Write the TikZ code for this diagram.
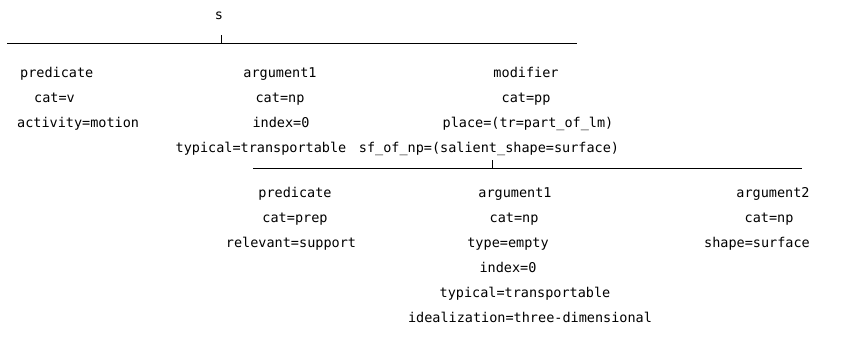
\documentclass[tikz,border=0pt]{standalone}
\usepackage{fontspec}
\setmonofont{DejaVu Sans Mono}
\begin{document}
\begin{tikzpicture}[x=1pt,y=-1pt,
  lbl/.style={anchor=base,inner sep=0pt,font=\ttfamily\fontsize{13.5}{15}\selectfont},
  lbw/.style={lbl,anchor=base west},
  bar/.style={line width=0.8pt}]
\useasboundingbox (0,0) rectangle (858,341);
% top tree
\node[lbl] (s) at (219,19) {s};
\coordinate (t1) at (221,35);
\coordinate (l1a) at (7,43);
\coordinate (l1b) at (577,43);
\draw[bar] (l1a) -- (l1b);
\draw[bar] (t1) -- (t1 |- l1a);
% column predicate
\node[lbw] (p1) at (20,77) {predicate};
\node[lbw] (p2) at (34,102) {cat=v};
\node[lbw] (p3) at (17,127) {activity=motion};
% column argument1
\node[lbl] (a1) at (280,77) {argument1};
\node[lbl] (a2) at (280,102) {cat=np};
\node[lbl] (a3) at (281,127) {index=0};
\node[lbl] (a4) at (261,152) {typical=transportable};
% column modifier
\node[lbl] (m1) at (526,77) {modifier};
\node[lbl] (m2) at (526,102) {cat=pp};
\node[lbl] (m3) at (528,127) {place=(tr=part\_of\_lm)};
\node[lbl] (m4) at (489,152) {sf\_of\_np=(salient\_shape=surface)};
% second tree
\coordinate (t2) at (492,160);
\coordinate (l2a) at (253,168);
\coordinate (l2b) at (802,168);
\draw[bar] (l2a) -- (l2b);
\draw[bar] (t2) -- (t2 |- l2a);
% predicate
\node[lbl] (q1) at (295,197) {predicate};
\node[lbl] (q2) at (295,222) {cat=prep};
\node[lbl] (q3) at (291,247) {relevant=support};
% argument1
\node[lbl] (b1) at (515,197) {argument1};
\node[lbl] (b2) at (514,222) {cat=np};
\node[lbl] (b3) at (508,247) {type=empty};
\node[lbl] (b4) at (508,272) {index=0};
\node[lbl] (b5) at (525,297) {typical=transportable};
\node[lbl] (b6) at (530,322) {idealization=three-dimensional};
% argument2
\node[lbl] (c1) at (773,197) {argument2};
\node[lbl] (c2) at (769,222) {cat=np};
\node[lbl] (c3) at (757,247) {shape=surface};
\end{tikzpicture}
\end{document}
